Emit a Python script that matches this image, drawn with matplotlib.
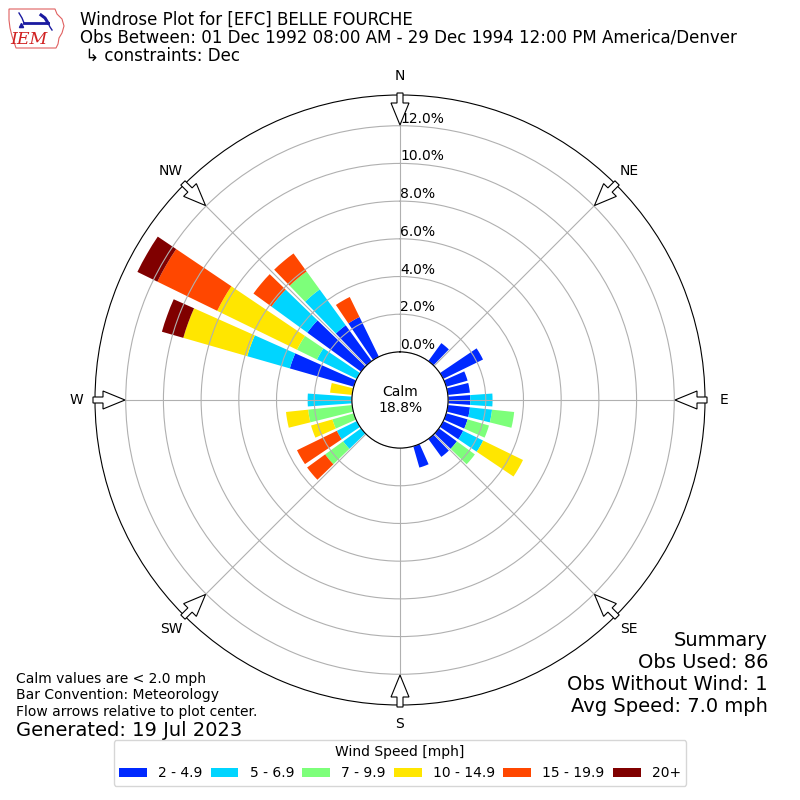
import numpy as np
import matplotlib
matplotlib.use("Agg")
import matplotlib.pyplot as plt
from matplotlib.patches import FancyArrow, Polygon

# направления (град) с ненулевыми барами
DIRECTIONS = [40, 60, 70, 80, 90, 100, 110, 120, 130, 140, 160,
              230, 240, 250, 260, 270, 280, 290, 300, 310, 320, 330]

# проценты по классам скорости, в том же порядке, что и DIRECTIONS
SPD_2_5 = [1.18, 2.35, 1.18, 1.18, 1.18, 1.18, 1.18, 1.18, 1.18, 1.18, 1.18,
           0, 0, 0, 0, 0, 0, 3.53, 0, 3.53, 2.35, 2.35]
SPD_5_7 = [0, 0, 0, 0, 1.18, 1.18, 0, 1.18, 0, 0, 0,
           1.18, 1.18, 0, 0, 2.35, 0, 2.35, 2.35, 2.35, 2.35, 0]
SPD_7_10 = [0, 0, 0, 0, 0, 1.18, 1.18, 0, 1.18, 0, 0,
            1.18, 0, 1.18, 2.35, 0, 0, 0, 1.18, 0, 1.18, 0]
SPD_10_15 = [0, 0, 0, 0, 0, 0, 0, 2.35, 0, 0, 0,
             0, 0, 1.18, 1.18, 0, 1.18, 3.53, 4.71, 0, 0, 0]
SPD_15_20 = [0, 0, 0, 0, 0, 0, 0, 0, 0, 0, 0,
             1.18, 2.35, 0, 0, 0, 0, 0, 3.53, 1.18, 1.18, 1.18]
SPD_20 = [0, 0, 0, 0, 0, 0, 0, 0, 0, 0, 0,
          0, 0, 0, 0, 0, 0, 1.18, 1.18, 0, 0, 0]

BIN_LABELS = ["2 - 4.9", "5 - 6.9", "7 - 9.9", "10 - 14.9", "15 - 19.9", "20+"]
RINGS = [0, 2, 4, 6, 8, 10, 12]
COMPASS = ["N", "NE", "E", "SE", "S", "SW", "W", "NW"]

CALM_TEXT = "Calm\n18.8%"
TITLE = "Windrose Plot for [EFC] BELLE FOURCHE"
SUBTITLE = "Obs Between: 01 Dec 1992 08:00 AM - 29 Dec 1994 12:00 PM America/Denver"
CONSTRAINTS = " \u21b3 constraints: Dec"
SUMMARY = ["Summary", "Obs Used: 86", "Obs Without Wind: 1", "Avg Speed: 7.0 mph"]
NOTES = ["Calm values are < 2.0 mph", "Bar Convention: Meteorology",
         "Flow arrows relative to plot center."]
GENERATED = "Generated: 19 Jul 2023"

RMAX = 13.63       # внешний круг
RORIGIN = -2.55    # дырка под "Calm"
BAR_WIDTH = 8.0    # градусов из 10 на сектор


def draw_logo(fig):
    # грубая копия логотипа IEM: контур Айовы + надпись
    lax = fig.add_axes([0, 1 - 55 / 800, 75 / 800, 55 / 800])
    lax.set_xlim(0, 75)
    lax.set_ylim(55, 0)
    lax.axis("off")
    outline = [(9, 9), (55, 9), (57, 14), (62, 19), (64, 26), (62, 33),
               (59, 38), (58, 44), (56, 48), (16, 48), (14, 42), (12, 36),
               (10, 28), (9, 20)]
    lax.add_patch(Polygon(outline, closed=True, fill=False,
                          ec="#e06060", lw=0.8))
    lax.plot([24, 48], [23, 23], color="#1a1aa0", lw=2)
    lax.plot([19, 22, 24], [13, 18, 23], color="#1a1aa0", lw=1)
    lax.plot([41, 45, 48], [15, 18, 23], color="#1a1aa0", lw=2.2)
    lax.plot([48, 50, 52], [23, 27, 30], color="#1a1aa0", lw=1)
    lax.plot([21], [25], marker="^", ms=3, color="#1a1aa0")
    lax.text(29, 39, "IEM", color="#d02020", fontsize=12.5,
             family="DejaVu Serif", style="italic", ha="center", va="center")


def main():
    fig = plt.figure(figsize=(8, 8), dpi=100)
    ax = fig.add_axes([0.11875, 0.11875, 0.7625, 0.7625], projection="polar")
    ax.set_theta_zero_location("N")
    ax.set_theta_direction(-1)

    colors = plt.get_cmap("jet")(np.arange(1, 7) / 6.0)
    theta = np.deg2rad(DIRECTIONS)
    width = np.deg2rad(BAR_WIDTH)
    bottom = np.zeros(len(DIRECTIONS))
    series = [SPD_2_5, SPD_5_7, SPD_7_10, SPD_10_15, SPD_15_20, SPD_20]
    for vals, col, lab in zip(series, colors, BIN_LABELS):
        vals = np.array(vals, dtype=float)
        ax.bar(theta, vals, width=width, bottom=bottom, color=col,
               linewidth=0, label=lab)
        bottom += vals

    ax.set_ylim(0, RMAX)
    ax.set_rorigin(RORIGIN)
    ax.set_rgrids(RINGS)
    ax.set_yticklabels([])
    for r in RINGS:
        ax.text(0, r, f"{r:.1f}%", ha="left", va="bottom", fontsize=10)
    ax.set_thetagrids(np.arange(0, 360, 45), labels=COMPASS)
    ax.tick_params(axis="x", pad=3)

    fig.text(0.5, 0.5, CALM_TEXT, ha="center", va="center", fontsize=10)

    # стрелки потока на внешнем круге, остриём к центру
    for ang in np.deg2rad(np.arange(0, 360, 45)):
        sx, sy = np.sin(ang), np.cos(ang)
        r0, length = 307 / 800, 32 / 800
        fig.add_artist(FancyArrow(
            0.5 + sx * r0, 0.5 + sy * r0, -sx * length, -sy * length,
            width=6 / 800, head_width=18 / 800, head_length=22 / 800,
            length_includes_head=True, fc="white", ec="black", lw=0.8,
            transform=fig.transFigure, zorder=5))

    fig.text(80 / 800, 1 - 25 / 800, TITLE, fontsize=12, va="baseline")
    fig.text(80 / 800, 1 - 43 / 800, SUBTITLE, fontsize=12, va="baseline")
    fig.text(80 / 800, 1 - 61 / 800, CONSTRAINTS, fontsize=12, va="baseline")
    draw_logo(fig)

    for i, line in enumerate(NOTES):
        fig.text(16 / 800, 1 - (679 + 16.5 * i) / 800, line,
                 fontsize=10, va="center")
    fig.text(16 / 800, 1 - 730 / 800, GENERATED, fontsize=14, va="center")

    for i, line in enumerate(SUMMARY):
        fig.text(768 / 800, 1 - (640 + 22 * i) / 800, line,
                 fontsize=14, ha="right", va="center")

    handles, labels = ax.get_legend_handles_labels()
    fig.legend(handles, labels, loc="lower center",
               bbox_to_anchor=(0.5, 0.009), ncol=6, columnspacing=0.6,
               title="Wind Speed [mph]", fontsize=10, title_fontsize=10)

    fig.savefig("out.png", dpi=100)


if __name__ == "__main__":
    main()
